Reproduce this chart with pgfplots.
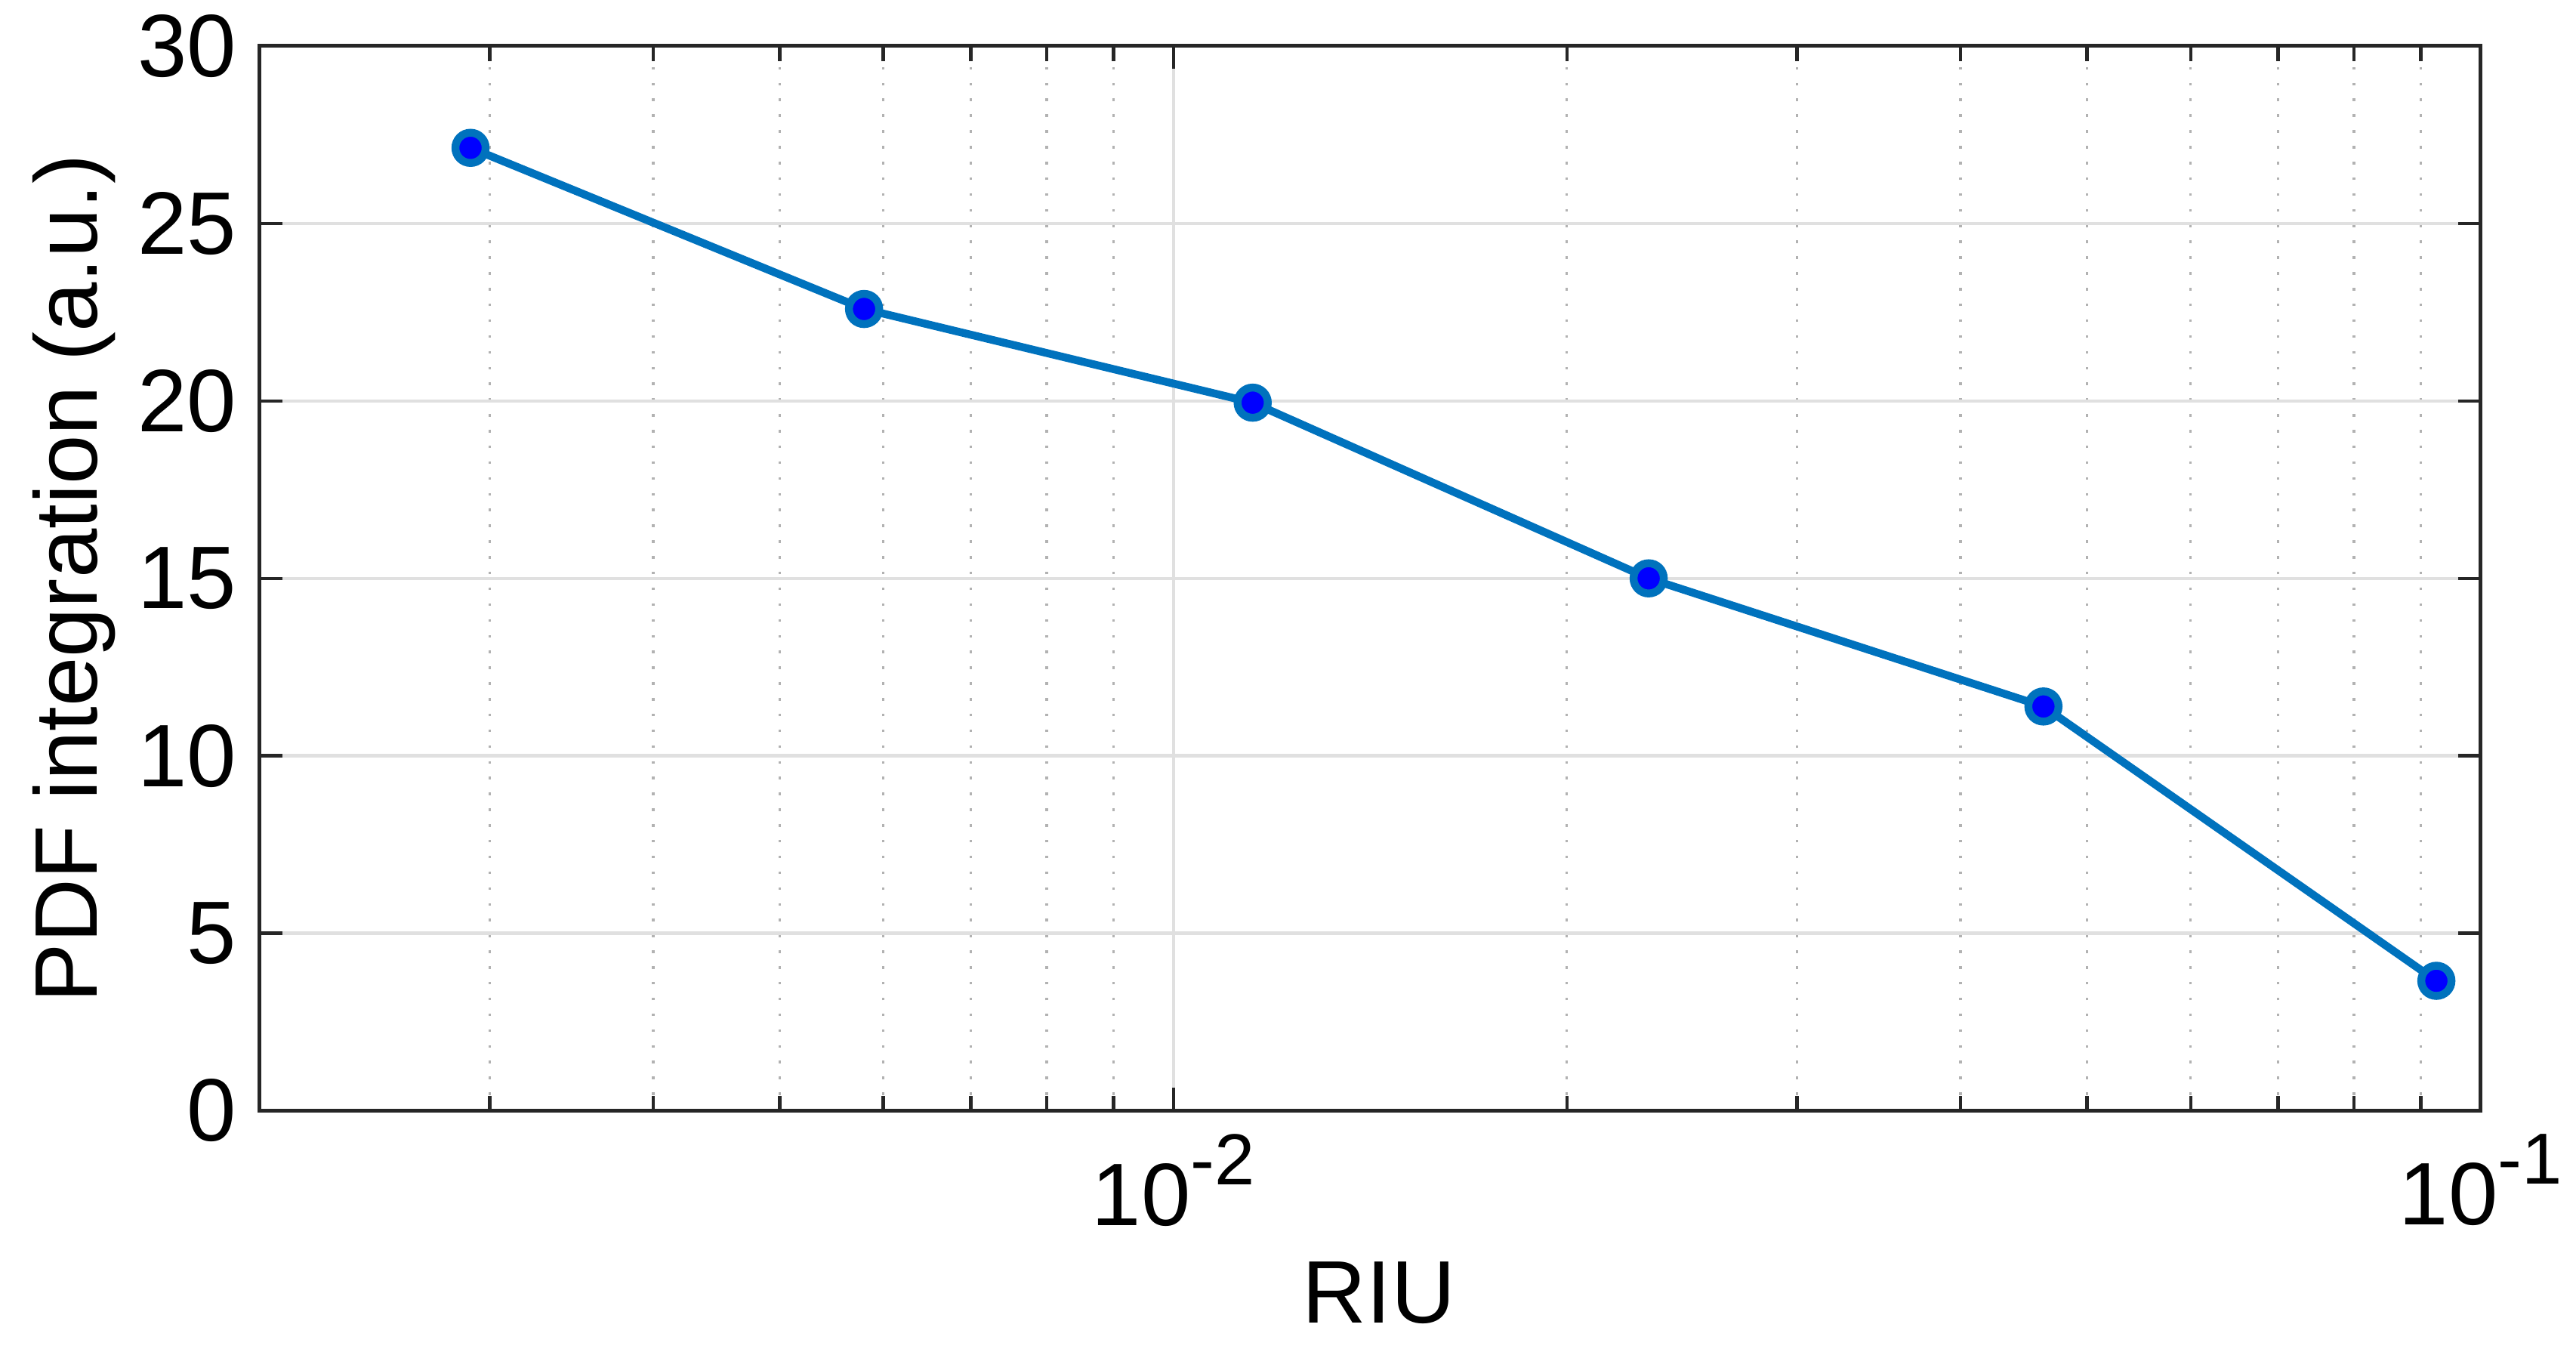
\documentclass[border=0pt]{standalone}
\usepackage{fontspec}
\setmainfont{Liberation Sans}
\usepackage{pgfplots}
\pgfplotsset{compat=1.18}
\definecolor{matblue}{rgb}{0,0.447,0.741}
\definecolor{axgray}{rgb}{0.15,0.15,0.15}
\newcommand{\expo}[1]{\raisebox{6.3pt}{\fontsize{11}{12}\selectfont #1}}
\begin{document}
\begin{tikzpicture}
\begin{axis}[
  scale only axis,
  width=338pt, height=162pt,
  at={(0,0)}, anchor=south west,
  xmode=log,
  xmin=0.002, xmax=0.1,
  ymin=0, ymax=30,
  xtick={0.01,0.1},
  xticklabels={10\expo{-2},10\expo{-1}},
  minor xtick={0.002,0.003,0.004,0.005,0.006,0.007,0.008,0.009,0.02,0.03,0.04,0.05,0.06,0.07,0.08,0.09},
  ytick={0,5,10,15,20,25,30},
  font=\fontsize{13.5}{16}\selectfont,
  /pgf/number format/assume math mode=true,
  tick align=inside, tick pos=both,
  major tick length=3.5pt, minor tick length=2.3pt,
  tick style={axgray, line width=0.5pt},
  xmajorgrids, ymajorgrids, xminorgrids,
  major grid style={black!12, line width=0.5pt},
  minor grid style={black!30, line width=0.4pt, dotted},
  axis line style={axgray, line width=0.6pt},
  xlabel={RIU},
  ylabel={PDF integration (a.u.)},
  xlabel style={at={(axis description cs:0.504,-0.171)}, anchor=center},
  ylabel style={at={(axis description cs:-0.0836,0.5)}, anchor=center},
]
\addplot[matblue, line width=1.2pt, mark=*, mark size=2.3pt,
  mark options={fill=blue, draw=matblue, line width=1.2pt}]
  coordinates {
  (0.0029,27.13)
  (0.0058,22.59)
  (0.0115,19.95)
  (0.0231,15.0)
  (0.0463,11.39)
  (0.0925,3.66)
  };
\end{axis}
\pgfresetboundingbox
\path (-39.5pt,-36.25pt) rectangle (352.5pt,169pt);
\end{tikzpicture}
\end{document}
